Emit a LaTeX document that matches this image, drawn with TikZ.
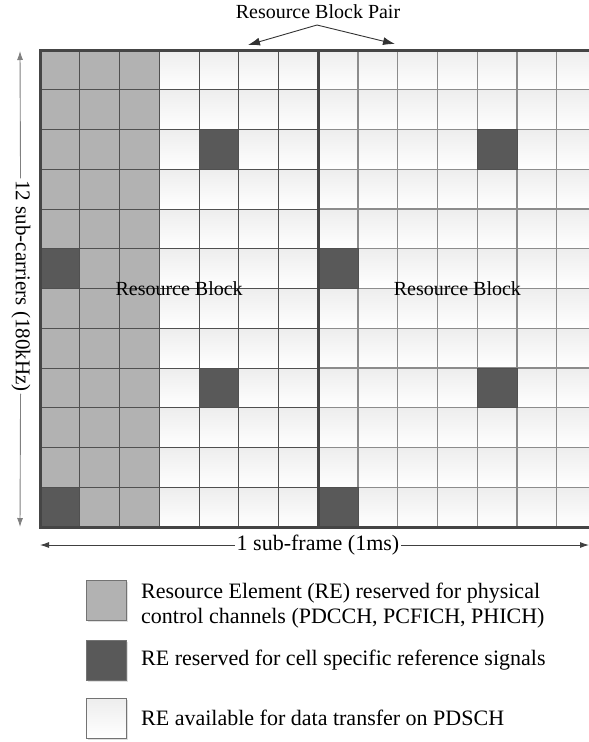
\documentclass[tikz,border=0pt]{standalone}
\usepackage{fontspec}
\setmainfont{Liberation Serif}
\usetikzlibrary{arrows.meta,shadows}

\definecolor{ctrlgray}{HTML}{B2B2B2}
\definecolor{refgray}{HTML}{595959}
\definecolor{gridA}{HTML}{505050}
\definecolor{gridB}{HTML}{8C8C8C}
\definecolor{framegray}{HTML}{454545}

\tikzset{
  reA/.style={draw=gridA, line width=0.9pt, top color=black!7, bottom color=white},
  reB/.style={draw=gridB, line width=1.1pt, top color=black!7, bottom color=white},
  ctrl/.style={draw=gridA, line width=0.9pt, fill=ctrlgray},
  refsig/.style={draw=gridA, line width=0.9pt, fill=refgray},
  dim/.style={line width=0.9pt, -{Latex[length=9pt,width=6pt]}},
  lbl/.style={font=\fontsize{20}{22}\selectfont, inner sep=2pt},
  legbox/.style={draw=black!55, line width=0.8pt, minimum size=40pt, inner sep=0pt,
                 drop shadow={opacity=0.25, shadow xshift=1.5pt, shadow yshift=-1.5pt}},
  legtxt/.style={font=\fontsize{22}{25}\selectfont, align=left, anchor=west, inner sep=0pt},
}

\begin{document}
\begin{tikzpicture}[x=1pt, y=-1pt]
    \useasboundingbox (0,0) rectangle (589,742);

    % dimensioni griglia
    \def\cw{39.75}
    \def\xo{40}
    \def\yo{50}

    % ----------------------------------------------------
    % 1. Griglia delle RE (14 simboli x 12 sottoportanti)
    % ----------------------------------------------------
    \begin{scope}
        \clip (0,0) rectangle (589,742);
        \foreach \c in {0,...,6}
            \foreach \r in {0,...,11}
                \path[reA] ({\xo+\c*\cw},{\yo+\r*\cw}) rectangle ++(\cw,\cw);
        \foreach \c in {7,...,13}
            \foreach \r in {0,...,11}
                \path[reB] ({\xo+\c*\cw},{\yo+\r*\cw}) rectangle ++(\cw,\cw);
        % canali di controllo
        \foreach \c in {0,1,2}
            \foreach \r in {0,...,11}
                \path[ctrl] ({\xo+\c*\cw},{\yo+\r*\cw}) rectangle ++(\cw,\cw);
        % segnali di riferimento
        \foreach \c/\r in {4/2, 0/5, 4/8, 0/11, 11/2, 7/5, 11/8, 7/11}
            \path[refsig] ({\xo+\c*\cw},{\yo+\r*\cw}) rectangle ++(\cw,\cw);
        % bordo spesso
        \draw[framegray, line width=3pt] (600,\yo) -- (\xo,\yo) -- (\xo,{\yo+12*\cw}) -- (600,{\yo+12*\cw});
        \draw[framegray, line width=3pt] ({\xo+7*\cw},\yo) -- ({\xo+7*\cw},{\yo+12*\cw});
    \end{scope}

    \node[lbl] (rbA) at ({\xo+3.5*\cw},{\yo+6*\cw}) {Resource Block};
    \node[lbl] (rbB) at ({\xo+10.5*\cw},{\yo+6*\cw}) {Resource Block};

    % ----------------------------------------------------
    % 2. Quote
    % ----------------------------------------------------
    \node[lbl] (pair) at (318,12) {Resource Block Pair};
    \coordinate (apex) at (317,25);
    \coordinate (pairL) at (248,45);
    \coordinate (pairR) at (395,44);
    \draw[dim, black!80, -{Latex[length=12pt,width=8pt]}] (apex) -- (pairL);
    \draw[dim, black!80, -{Latex[length=12pt,width=8pt]}] (apex) -- (pairR);

    \node[lbl, rotate=-90, font=\fontsize{21}{23}\selectfont] (subc) at (21,286) {12 sub-carriers (180kHz)};
    \coordinate (subTop) at (20,51);
    \coordinate (subBot) at (20,527);
    \draw[dim, black!50] (subc) -- (subTop);
    \draw[dim, black!50] (subc) -- (subBot);

    \node[lbl, font=\fontsize{22}{24}\selectfont] (sfr) at (318,545) {1 sub-frame (1ms)};
    \coordinate (sfrL) at (40,545);
    \coordinate (sfrR) at (589,545);
    \draw[dim, black!75] (sfr) -- (sfrL);
    \draw[dim, black!75] (sfr) -- (sfrR);

    % ----------------------------------------------------
    % 3. Legenda
    % ----------------------------------------------------
    \node[legbox, fill=ctrlgray] (keyCtrl) at (106,600) {};
    \node[legtxt] (txtCtrl) at (141,606) {Resource Element (RE) reserved for physical\\control channels (PDCCH, PCFICH, PHICH)};

    \node[legbox, fill=refgray] (keyRef) at (106,660) {};
    \node[legtxt] (txtRef) at (141,660) {RE reserved for cell specific reference signals};

    \node[legbox, top color=black!7, bottom color=white] (keyData) at (106,718) {};
    \node[legtxt] (txtData) at (141,718) {RE available for data transfer on PDSCH};

\end{tikzpicture}
\end{document}
